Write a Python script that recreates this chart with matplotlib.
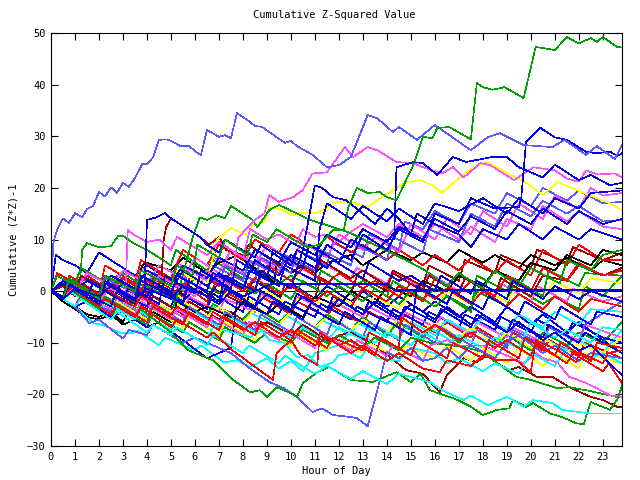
import matplotlib
matplotlib.use('Agg')
import matplotlib.pyplot as plt

# colours of the gnuplot palette used in the chart
SL = '#5a5aff'
BL = '#0000e0'
GR = '#00a000'
MG = '#ff50ff'
CY = '#00ffff'
RD = '#ff0000'
DR = '#a00000'
YL = '#ffff00'
BK = '#000000'

# each series: (hour, cumulative value) at the turning points
sl_a = [(0, 0), (0.1, 9.5), (0.25, 11.8), (0.5, 14.1), (0.75, 13.2), (1.0, 15.1), (1.3, 14.3), (1.5, 15.9),
        (1.75, 16.5), (2.0, 19.2), (2.25, 18.3), (2.5, 20.1), (2.75, 19), (3.0, 21), (3.25, 20.2), (3.5, 21.9),
        (3.8, 24.6), (4.0, 24.6), (4.25, 25.9), (4.5, 29.3), (4.8, 29.4), (5.0, 29.1), (5.4, 28.1), (5.75, 28.1),
        (6.1, 26.8), (6.25, 26.4), (6.5, 31.2), (7.0, 29.9), (7.25, 30.2), (7.5, 29.6), (7.75, 34.5), (8.2, 33.1),
        (8.5, 32), (8.8, 31.8), (9.75, 28.7), (10.0, 29.1), (10.25, 28.1), (10.9, 26.4), (11.5, 24), (12.0, 24.4),
        (12.5, 26), (13.2, 34.1), (13.6, 33.5), (14.25, 30.8), (14.5, 31.8), (15.25, 29.3), (16.0, 32.2),
        (16.3, 31.2), (17.5, 27.3), (18.2, 29.8), (18.7, 30.6), (19.7, 28.3), (20.9, 27.9), (21.4, 29.3),
        (22.3, 26.4), (22.75, 28.1), (23.5, 25.6), (23.8, 28.3)]
gr_a = [(0, 0), (0.5, -1.5), (0.75, 2), (2, -1.5), (2.25, 3), (3.5, 0), (3.75, 4), (5, 1), (5.25, 5), (5.9, 3),
        (6.1, 9), (7, 6.5), (7.25, 10), (8.2, 7), (8.4, 11), (9, 9.5), (9.4, 12), (10.1, 10), (10.7, 8.5),
        (11.2, 9), (11.75, 11.8), (12.2, 11.8), (12.4, 16.3), (12.75, 20), (13.2, 19), (13.7, 19.2), (14.0, 18.2),
        (14.4, 17.6), (14.8, 21.5), (15.1, 24.4), (15.5, 29.9), (15.9, 29.6), (16.1, 31.6), (16.6, 31.8),
        (17.5, 29.4), (17.75, 40.3), (18, 39.5), (18.4, 39), (18.9, 39.5), (19.7, 37.4), (20.2, 47.3), (21, 46.7),
        (21.5, 49.2), (22, 48), (22.5, 49), (22.75, 48.3), (23, 49.2), (23.6, 47.3), (23.8, 47.2)]
mg_a = [(0, 0), (0.5, -1.5), (1, 1), (2, -2), (2.5, 1), (4, -2), (4.5, 3), (6, -1), (6.5, 4), (7.5, 1), (7.8, 10.3),
        (8.2, 12.4), (8.5, 13.8), (8.9, 15.1), (9.1, 18.6), (9.5, 17.3), (10.1, 18.2), (10.5, 19.6), (10.9, 22.8),
        (11.5, 23), (12.25, 27.9), (12.6, 26), (13.2, 27.9), (13.6, 27.3), (14.4, 25), (15.1, 24.8), (15.5, 24),
        (16.3, 22.8), (16.75, 24), (17.2, 22), (17.9, 24.8), (18.3, 24.4), (19.3, 21.5), (20.1, 24), (21, 23.4),
        (21.5, 21.8), (22, 21.2), (22.3, 23.4), (22.8, 22.6), (23.5, 22.8), (23.8, 22)]
gr_b = [(0, 0), (0.5, -1), (0.75, 2.5), (2, -1), (2.5, 1), (3.5, -2), (4, 1), (5.2, -2), (5.9, 10.3), (6.2, 14.3),
        (6.5, 13.8), (6.9, 14.7), (7.25, 14.1), (7.5, 16.5), (8.4, 13.8), (8.6, 12.4), (9.1, 15.7), (9.5, 16.7),
        (10.4, 14.7), (10.8, 13.8), (11.75, 12.4), (12.5, 11.2), (13.2, 9.6), (14.8, 6), (15.6, 4), (16.5, 1),
        (17, 3.5), (18, 0.5), (18.5, 4), (19.5, 1), (20, 4.5), (21.2, 1.5), (21.5, 6), (22.5, 4), (23, 7), (23.8, 8)]
gr_c = [(0, 0), (0.5, -1.5), (1.2, 1), (1.3, 8), (1.5, 9.3), (2, 8.5), (2.5, 8.7), (2.8, 10.7), (3, 10.7),
        (3.5, 9.1), (4, 8), (5, 5), (5.2, 8), (6.5, 4), (6.75, 6), (8, 2.5), (8.25, 5), (9.5, 1.5), (10, 3),
        (11, 0.5), (11.25, 4), (12.5, 0.5), (13, 2), (14, -1), (14.25, 2), (15.5, -1.5), (16, 0.5), (17.5, -3.5),
        (17.75, 0), (19, -3), (19.25, 1), (20.5, -2.5), (21, -1), (22, -3.5), (22.25, 1), (23, -1), (23.8, 3)]
mg_b = [(0, 0), (0.5, -1), (0.75, 1.5), (2, -1.5), (2.25, 1), (3.1, -1), (3.2, 11.8), (3.5, 10.8), (4, 9.5),
        (4.5, 10), (5, 8), (5.25, 10.5), (6.5, 7), (7, 9.5), (8, 6.5), (8.3, 12), (9, 10), (9.5, 11), (10.2, 9),
        (10.5, 12), (11, 10.5), (11.5, 11), (12, 9.5), (12.5, 11.5), (13, 13), (14, 10.5), (14.5, 13),
        (15.5, 10.5), (16, 13), (17, 10), (17.5, 12.5), (18.5, 9.5), (19, 14), (20, 12), (20.5, 16.5),
        (21.5, 13.5), (22, 15.5), (23, 12.5), (23.8, 12)]
bl_a = [(0, 0), (0.5, -1.5), (0.75, 1), (2, -2.5), (2.25, 0), (3.5, -3), (3.9, 0), (4, 13.8), (4.4, 14.3),
        (4.75, 15.1), (5, 14.1), (6.2, 10.5), (6.5, 9), (7, 7.5), (7.25, 10), (8.5, 6.5), (8.75, 9), (10, 5),
        (10.25, 8), (11.5, 4.5), (11.75, 6), (13, 2.5), (13.25, 5.5), (14.5, 2), (15, 3), (16, 0), (16.25, 3),
        (17.5, -0.5), (17.75, 2), (19, -1.5), (19.25, 2), (20.5, -1.5), (21, 1), (22, -1.5), (22.5, 0), (23.8, -2)]
dr_a = [(0, 0), (0.5, 1.5), (1, -0.5), (1.25, 3), (2.5, -0.5), (2.75, 2), (4, -1.5), (4.6, 2), (4.7, 10),
        (4.8, 12.4), (5, 14.1), (6.2, 10.5), (6.6, 9), (7, 10.5), (7.3, 8), (8, 7), (8.25, 9), (9.5, 5), (10, 6.5),
        (11, 3.5), (11.25, 6), (12.5, 2.5), (13, 4), (14, 1), (14.25, 3.5), (15.5, 0), (15.75, 3), (17, -0.5),
        (17.25, 2.5), (18.5, -1), (18.75, 2.5), (20, -1), (20.5, 3), (21.5, 2), (22, 5), (23, 3), (23.8, 4.5)]
bl_b = [(0, 0), (0.5, -1.5), (1, 0.5), (2.5, -3), (2.75, 0), (4, -3), (4.25, 1), (5.5, -2.5), (5.75, 2), (7, -2),
        (7.25, 3), (8.5, 0), (8.75, 4), (10, 0.5), (10.5, 8), (11, 20.5), (11.3, 20), (11.75, 18.2), (12.3, 17.6),
        (13, 15), (13.5, 13), (14, 16), (14.5, 14), (15, 11), (15.25, 15), (16, 13), (17, 11), (17.5, 8.5),
        (18, 12), (19, 10), (19.5, 13), (20.5, 10), (21, 12.5), (22, 10), (22.5, 12), (23.8, 10)]
bl_c = [(0, 0), (0.5, 2), (1.5, -1), (1.75, 1.5), (3, -2), (3.25, 1), (4.5, -2.5), (4.75, 3), (6, -0.5),
        (6.25, 4), (7.5, 0.5), (7.75, 6), (9, 2.5), (9.25, 8), (10.5, 4.5), (10.75, 9), (12, 5.5), (12.5, 10),
        (13.5, 7.5), (14, 10), (14.3, 10), (14.4, 24), (15.1, 25), (15.5, 24.8), (16.1, 22.5), (16.75, 26),
        (17.3, 25), (18.4, 26), (19, 26), (19.5, 24), (20.5, 22), (21, 24.5), (22, 21.5), (22.5, 22.5),
        (23.3, 20.5), (23.8, 21)]
bl_d = [(0, 0), (0.5, -1.5), (0.75, 1.5), (2, -2), (2.25, 2), (3.5, -1.5), (3.75, 3), (5, 0), (5.5, 4), (6.5, 1),
        (7, 3.5), (8, 0.5), (8.5, 6), (9.5, 3), (10, 7), (11, 4.5), (11.5, 9), (12.5, 6), (13, 11), (14, 8),
        (14.5, 12), (15.5, 9.5), (16, 15), (17, 13), (17.5, 18), (18.5, 16), (19.5, 16.3), (19.6, 18),
        (19.8, 28.9), (20.4, 31.6), (21, 29.8), (21.5, 29.3), (22.3, 27), (22.75, 26.7), (23.3, 27), (23.6, 26.2),
        (23.8, 26.7)]
yl_a = [(0, 0), (0.5, -1), (0.75, 2), (2, -1.5), (2.25, 1.5), (3.5, -1.5), (3.75, 3), (5, 0), (5.25, 4),
        (6.5, 1), (6.9, 9.9), (7.5, 12.2), (8.2, 10.8), (8.4, 12.8), (8.9, 13.4), (9.1, 16.3), (9.7, 15.7),
        (10, 14.7), (10.4, 15.1), (11.1, 15.1), (11.9, 17.3), (12.5, 17.3), (13.2, 16.3), (13.8, 18.2),
        (14.8, 21.1), (15.4, 21.5), (15.9, 20.5), (16.3, 19), (16.9, 21.5), (17.6, 24), (18.2, 25), (18.8, 23.4),
        (19.8, 21), (20.5, 18.6), (21.1, 21.1), (21.6, 20.2), (22.75, 18), (23.3, 17), (23.8, 15.7)]
sl_b = [(0, 0), (0.5, -1.5), (1, -3), (1.6, -6.2), (2, -5.5), (3, -9.2), (3.25, -7.5), (4, -8.5), (4.25, -6.5),
        (5.5, -10), (6, -9), (7.5, -12), (8.3, -15), (9.1, -17.6), (9.7, -18.8), (10.25, -20.5), (10.9, -23.4),
        (11.3, -22.7), (11.75, -24), (12.5, -24.4), (12.75, -24.6), (13.2, -26.2), (13.6, -19.2), (14, -11.8),
        (14.5, -13), (15, -11), (15.5, -13.5), (16, -13), (16.5, -11), (17, -13), (17.5, -10.5), (18.5, -13),
        (19, -10), (19.5, -8.5), (20.5, -12), (21, -10.5), (22, -13.5), (22.5, -12), (23.8, -13)]
gr_d = [(0, 0), (0.5, -1.5), (0.75, 0.5), (2, -3.5), (2.25, -1), (3.5, -5), (3.75, -3.5), (5, -8), (5.7, -11.4),
        (6.75, -13.4), (7.6, -17.2), (8.3, -19.6), (8.7, -19.2), (9, -20.5), (9.4, -18.6), (10, -19.8),
        (10.25, -20.5), (10.5, -17.8), (11.1, -15.7), (11.6, -14.7), (12.5, -17.2), (13.4, -17.6), (14.4, -15.7),
        (15, -17.6), (15.4, -16), (15.8, -19.2), (16.9, -21), (17.5, -22.4), (18, -24), (18.6, -23),
        (19.1, -22.7), (19.25, -21.1), (19.8, -22.4), (20.1, -21.7), (20.8, -23.7), (21.3, -24.4), (21.9, -25.6),
        (22.2, -25.8), (22.5, -21.5), (23.3, -23), (23.6, -21), (23.8, -18.2)]
cy_a = [(0, 0), (0.5, -1.5), (1, -3), (1.25, -1.5), (2.5, -5.5), (2.75, -4), (4, -8), (4.25, -6.5), (5, -8.5),
        (5.25, -7), (6.5, -10.5), (6.75, -8.5), (8, -12), (8.25, -10.5), (9.5, -14), (9.75, -12.5), (11, -16),
        (11.5, -14.5), (12.5, -17), (13, -15.5), (14, -18), (14.5, -16), (15.8, -17.6), (16.3, -19.2),
        (17.2, -21.1), (17.5, -20.2), (18.2, -22.1), (19, -20.5), (19.25, -21.1), (19.7, -22.4), (20.1, -21.1),
        (20.9, -21.7), (21.3, -23), (22.5, -23.7), (23.8, -23.7)]
dr_b = [(0, 0), (0.5, 1), (1, -1), (1.25, 1.5), (2.5, -2.5), (2.75, 0), (4, -3.5), (4.25, -1), (5.5, -4.5),
        (5.75, -2), (7, -5.5), (7.5, -4), (8.5, -7.5), (9, -6), (10, -8.5), (10.5, -6.5), (11.5, -9.5),
        (12.5, -7.9), (13.6, -10.8), (14.8, -15.3), (15.5, -16), (16.2, -19.6), (16.5, -16.3), (17.2, -13),
        (17.75, -13.7), (18.2, -12.4), (18.6, -14), (19.1, -15.3), (19.5, -14.7), (20.25, -16.6), (20.9, -16.6),
        (21.6, -18.6), (22.5, -20.5), (23, -21.1), (23.6, -22.4), (23.8, -22.4)]
rd_a = [(0, 0), (0.5, -1.5), (0.75, 1), (2, -3), (2.25, -1.5), (3.5, -5), (3.75, -3), (5, -7), (5.25, -5.5),
        (6.5, -9), (6.75, -8), (7.6, -11.6), (9.25, -17.2), (9.4, -12), (10, -9.5), (10.4, -12.4), (11.1, -14.3),
        (11.2, -8), (12, -10.5), (12.5, -9.5), (13.5, -12.5), (13.75, -9), (15, -12.5), (15.25, -9.5), (16.5, -13),
        (16.75, -10), (18, -13), (18.25, -9.5), (19.5, -13), (19.75, -9), (21, -12.5), (21.25, -10), (22.5, -13.5),
        (22.75, -10), (23.8, -11)]
rd_b = [(0, 0), (0.5, -1), (1, 1.5), (2, -1.5), (2.25, 0.5), (3.5, -3), (3.75, -1), (5, -4.5), (5.25, -3),
        (6.5, -6.5), (6.75, -4), (8, -7.5), (8.5, -6), (9.5, -9), (10, -7.5), (11, -10.5), (11.5, -9), (12.5, -12),
        (13, -10.5), (14, -13.5), (14.5, -12), (15.5, -15), (16.2, -15.7), (16.5, -13.4), (17.5, -14.5),
        (18, -12.5), (18.6, -13.4), (19.4, -13.4), (20, -15.7), (20.2, -9.5), (20.5, -10.1), (21.1, -11.4),
        (21.9, -13.8), (22, -11.8), (23, -14), (23.2, -12), (23.8, -11.5)]
mg_c = [(0, 0), (0.5, -1.5), (0.75, 0.5), (2, -2.5), (2.25, -1), (3.5, -4.5), (3.75, -2), (5, -5.5), (5.25, -3.5),
        (6.5, -7), (6.75, -5), (8, -8.5), (8.25, -6), (9.5, -9.5), (9.75, -7.5), (11, -11), (11.25, -8),
        (12.5, -11.5), (12.75, -9.5), (14, -12.5), (14.25, -10.5), (15.5, -13.5), (15.8, -10.5), (16.5, -9.5),
        (17, -10.5), (18, -10.5), (19, -12.5), (19.7, -14), (20.2, -12), (20.5, -13), (21.1, -13.8),
        (21.6, -16.6), (22.2, -17.6), (22.75, -18.8), (23.3, -20.2), (23.8, -20.5)]
cy_b = [(0, 0), (0.5, -1.5), (0.75, 0), (2, -3.5), (2.25, -2), (3.5, -5.5), (3.75, -4), (5, -7.5), (5.25, -5.5),
        (6.5, -9), (6.75, -7), (8.3, -8.9), (8.8, -7.6), (9.1, -9.5), (9.7, -10), (10.25, -12.8), (10.7, -12.4),
        (11.2, -14.7), (11.75, -13.8), (12, -12.4), (12.5, -12), (12.9, -13), (13.2, -11), (13.6, -13),
        (14.5, -13.5), (15, -11), (16, -12), (16.5, -14), (17, -13), (18, -15.5), (18.5, -14), (19.5, -16),
        (20, -12), (21, -14.5), (21.5, -11), (22.5, -13), (23, -12), (23.8, -14)]
cy_c = [(0, 0), (0.5, -1.5), (1, -3), (1.75, -6.2), (2.2, -6.6), (2.9, -8.1), (3.4, -8.1), (3.6, -7.6),
        (4.5, -10.5), (4.75, -9), (6, -11.5), (6.25, -10.5), (7.2, -13.8), (7.75, -13.4), (8.3, -14.7), (9, -13),
        (9.5, -15), (10, -13.5), (10.5, -15.5), (11, -12), (12, -10.5), (12.5, -7.5), (13.5, -10), (14, -8),
        (15, -10.5), (15.5, -8), (16.5, -10.5), (17, -8.5), (18, -11), (18.5, -9), (19.5, -11), (20, -6),
        (21, -9), (21.5, -7.5), (22.5, -10), (23, -7), (23.8, -7.5)]
bk_a = [(0, 0), (0.5, -1.5), (1, -3), (1.5, -4.5), (2, -5), (2.5, -4), (3, -6), (3.25, -3.5), (3.5, -1), (3.8, 5),
        (4, 5.5), (5, 4), (5.5, 6.5), (6.5, 3.5), (7, 5.5), (7.8, 7), (8.3, 5), (9, 3), (9.3, 1.5), (9.4, 5.6),
        (10, 3.5), (10.5, 5), (11, 3.5), (11.5, 5.5), (12.5, 7), (13, 5), (14, 8), (15, 6), (15.5, 7.5),
        (16.5, 5.5), (17, 8), (18, 5.5), (18.5, 7), (19.5, 4.5), (20, 7), (21, 5), (21.5, 6.5), (22.5, 4), (23, 6),
        (23.8, 5)]
bk_b = [(0, 0), (0.5, -2), (1, -3.5), (1.5, -5), (2, -5.5), (2.5, -4.5), (3, -6.5), (3.5, -5.5), (4, -7),
        (4.25, -4), (5, -6), (5.25, -2), (6, -4), (6.5, -3), (7.5, -5), (8, -2), (9, -4.5), (9.5, -2.5),
        (10.5, -5), (11, -1), (12, -3), (12.5, 0), (13.5, -2.5), (14, 1), (15, -1), (15.5, 2), (16.5, 0), (17, 3),
        (18, 1), (18.5, 4), (19.5, 2), (20, 5.5), (21, 4), (21.5, 7), (22.5, 5), (23, 8), (23.8, 7)]
rd_c = [(0, 0), (0.25, 3.5), (1, 1.5), (1.25, 4.5), (2.5, 1), (2.75, 3), (4, -0.5), (4.25, 2.5), (5.5, -1),
        (5.75, 1), (7, -2.5), (7.25, 0), (8.5, -3.5), (8.75, -1), (10, -4.5), (10.25, -2), (11.5, -5), (11.75, -3),
        (13, -6.5), (13.25, -4), (14.5, -7), (14.75, -4.5), (16, -8), (16.5, -6), (17.5, -9), (17.75, -7),
        (19, -10.5), (19.25, -8), (20.5, -11.5), (20.75, -9.5), (22, -12.5), (22.25, -10), (23.8, -13)]
rd_d = [(0, 0), (0.5, -1.5), (0.75, 3), (2, -0.5), (2.25, 5), (3.5, 1.5), (3.75, 6), (5, 2.5), (5.5, 8), (6.5, 5),
        (7, 9), (8, 6), (8.5, 10), (9.5, 7.5), (10, 11), (11, 8), (11.5, 10.5), (12.5, 7.5), (13, 9), (14, 6),
        (14.5, 8), (15.5, 5), (16, 7), (17, 4), (17.5, 6.5), (18.5, 3.5), (19, 6), (20, 3), (20.5, 8), (21.5, 5),
        (22, 9), (23, 6), (23.8, 6)]
rd_e = [(0, 0), (0.5, 2), (1, 0.5), (1.5, 3), (2.5, 0), (3, 2.5), (4, -0.5), (4.5, 3.5), (5.5, 0.5), (6, 4),
        (7, 1), (7.5, 3.5), (8.5, 0.5), (9, 5), (10, 2), (10.5, 4.5), (11.5, 1.5), (12, 3.5), (13, 0.5), (13.5, 2),
        (14.5, -1), (15, 1.5), (16, -1.5), (16.5, 0.5), (17.5, -2.5), (18, 0), (19, -3), (19.5, -0.5),
        (20.5, -3.5), (21, -1), (22, -4), (22.5, -1.5), (23.8, -3)]
rd_f = [(0, 0), (0.5, -1.5), (1, 1), (2, -2), (2.5, 1.5), (3.5, -1.5), (4, 2), (5, -1), (5.5, 1.5), (6.5, -2),
        (7, 3), (8, 0), (8.5, 2.5), (9.5, -0.5), (10, 1), (11, -2), (11.5, 0), (12.5, -3), (13, 0.5), (14, -2),
        (14.5, 1), (15.5, -2), (16, 2.5), (17, -0.5), (17.5, 2), (18.5, -1), (19, 3), (20, 0), (20.5, 4.5),
        (21.5, 2), (22, 5.5), (23, 3), (23.8, 4)]
rd_g = [(0, 0), (0.5, -1.5), (1, -3), (1.25, -1), (2.5, -4.5), (2.75, -2.5), (4, -6), (4.25, -3), (5.5, -6.5),
        (5.75, -4), (7, -7.5), (7.25, -5), (8.5, -8.5), (8.75, -6), (10, -9.5), (10.25, -7.5), (11.5, -11),
        (11.75, -9), (13, -11.5), (13.25, -8), (14.5, -11), (14.6, -5), (15.5, -8), (16, -6.5), (17, -9.5),
        (17.5, -8), (18.5, -11), (19, -9.5), (20, -12.5), (20.25, -10), (21.5, -14), (21.75, -12), (23, -15.5),
        (23.25, -14), (23.8, -17.8)]
gr_e = [(0, 0), (0.5, -1.5), (0.75, 1), (2, -2.5), (2.25, 0), (3.5, -3.5), (3.75, -1), (5, -4), (5.25, -1.5),
        (6.5, -5), (6.75, -2.5), (8, -5.5), (8.5, -3), (9.5, -6), (10, -4), (11, -7), (11.5, -4.5), (12.5, -7.5),
        (13, -5), (14, -8.5), (14.5, -6), (15.5, -9), (16, -6.5), (17, -10), (17.5, -8), (18.5, -11), (19, -8.5),
        (20, -11.5), (20.5, -8), (21.5, -10.5), (22, -8), (23, -10), (23.8, -6)]
gr_f = [(0, 0), (0.25, 3), (1, 1), (1.25, 4.5), (2.5, 1), (3, 3.5), (4, 0.5), (4.5, 3), (5.5, 0), (6, 2.5),
        (7, -0.5), (7.5, 2.5), (8.5, -0.5), (9, 1.5), (10, -1.5), (10.5, 2), (11.5, -1), (12, 1), (13, -2),
        (13.5, 0.5), (14.5, -2.5), (15, 0), (16, -3), (16.5, -1), (17.5, -4), (17.75, 3), (19, 0), (19.25, 2.5),
        (20.5, -1), (20.75, 4), (22, 1), (22.25, 3.5), (23.8, 3)]
gr_g = [(0, 0), (0.5, -1.5), (1, -3), (1.25, -1.5), (2.5, -5), (2.75, -3), (4, -6.5), (4.25, -4.5), (5.5, -8),
        (5.75, -6), (7, -9.5), (7.25, -7), (8.5, -10), (9, -8), (10, -10), (10.5, -7.5), (11.5, -10), (12, -8.5),
        (13, -11), (13.5, -9), (14.5, -11.5), (15, -9), (15.8, -10), (17.2, -10.8), (18, -11.8), (19, -15.3),
        (19.4, -16.6), (20, -17.2), (21.1, -18.8), (21.6, -18.6), (22.3, -19.2), (23.3, -20.2), (23.6, -20.5),
        (23.8, -18.8)]
mg_d = [(0, 0), (0.5, -1), (0.75, 2), (2, -1), (2.25, 3), (3.5, 0), (3.75, 4.5), (5, 1.5), (5.25, 5.5), (6.5, 2),
        (6.75, 6.5), (8, 3.5), (8.25, 7.5), (9.5, 4), (9.75, 6), (11, 3), (11.25, 5.5), (12.5, 2.5), (12.75, 4.5),
        (14, 1.5), (14.25, 4), (15.5, 0.5), (15.75, 3.5), (17, 0), (17.25, 2.5), (18.5, -1), (18.75, 1.5),
        (20, -2), (20.25, 1), (21.5, -2), (21.75, 0.5), (23, -2), (23.8, -1)]
mg_e = [(0, 0), (0.5, -1.5), (1, -3), (1.25, -0.5), (2.5, -3.5), (2.75, -1.5), (4, -5), (4.25, -2), (5.5, -5),
        (5.75, -1), (7, -4), (7.25, -1.5), (8.5, -4), (8.75, -0.5), (10, -3.5), (10.25, -1), (11.5, -4),
        (11.75, -2), (13, -5), (13.25, -3), (14.5, -6), (14.75, -4), (16, -7), (16.25, -5), (17.5, -8.5),
        (17.75, -6), (19, -9), (19.25, -7), (20.5, -10), (20.75, -7), (22, -9.5), (22.25, -6.5), (23.8, -9)]
mg_f = [(0, 0), (0.5, 2), (1, 0), (1.5, 3.5), (2.5, 1), (3, 4), (4, 1.5), (4.5, 5), (5.5, 2.5), (6, 6.5), (7, 3.5),
        (7.5, 8), (8.5, 5), (9, 9), (10, 6), (10.5, 9.5), (11.5, 6.5), (12, 11), (13, 8), (13.5, 10.5),
        (14.5, 7.5), (15, 13), (16, 10), (16.5, 14), (17.5, 11), (18, 15.5), (19, 12.5), (19.5, 17), (20.5, 14),
        (21, 18.5), (22, 16), (22.5, 20), (23, 18.5), (23.8, 19)]
cy_d = [(0, 0), (0.5, -1.5), (1, -3), (1.5, -2), (2.5, -4.5), (3, -2.5), (4, -5), (4.5, -3), (5.5, -6), (6, -4),
        (7, -7), (7.5, -5), (8.5, -8), (9, -6), (10, -9), (10.5, -7), (11.5, -9.5), (12, -7), (13, -9.5),
        (13.5, -6.5), (14.5, -9), (15, -6), (16, -8.5), (16.5, -5.5), (17.5, -8), (18, -5), (19, -7.5),
        (19.5, -4.5), (20.5, -7), (21, -4), (22, -6.5), (22.5, -3.5), (23.8, -4)]
cy_e = [(0, 0), (0.5, -1.5), (0.75, 1), (2, -2.5), (2.25, 0), (3.5, -3.5), (3.75, -1), (5, -4.5), (5.25, -2),
        (6.5, -5.5), (6.75, -3), (8, -6.5), (8.25, -4), (9.5, -7), (9.75, -4.5), (11, -8), (11.25, -5.5),
        (12.5, -8.5), (12.75, -6), (14, -9), (14.25, -6.5), (15.5, -9.5), (15.75, -7), (17, -10.5), (17.25, -7.5),
        (18.5, -10.5), (18.75, -8), (20, -11), (20.25, -8.5), (21.5, -11.5), (21.75, -9), (23, -12), (23.8, -7.5)]
yl_b = [(0, 0), (0.5, -1.5), (1, 0.5), (2, -2), (2.5, 0), (3.5, -3), (4, -1), (5, -4), (5.5, -2), (6.5, -5),
        (7, -3), (8, -6), (8.5, -3.5), (9.5, -6.5), (10, -4), (11, -7), (11.5, -5), (12.5, -7.5), (13, -5.5),
        (14, -8), (14.5, -5), (15.5, -8), (16, -6), (17, -9), (17.5, -7), (18.5, -10), (19, -8), (20, -11),
        (20.5, -9), (21.5, -12), (22, -10), (23, -12), (23.8, -8.9)]
yl_c = [(0, 0), (0.5, 1.5), (1, 0), (1.5, 2.5), (2.5, -0.5), (3, 2), (4, -1), (4.5, 1.5), (5.5, -1.5), (6, 1),
        (7, -2), (7.5, 0.5), (8.5, -2.5), (9, 0), (10, -3), (10.5, -0.5), (11.5, -3), (12, -1), (13, -3.5),
        (13.5, -1), (14.5, -3.5), (15, -0.5), (16, -3), (16.5, 0), (17.5, -2.5), (18, 0.5), (19, -2), (19.5, 1.5),
        (20.5, -1), (21, 2), (22, -0.5), (22.5, 2.5), (23.8, 1.5)]
yl_d = [(0, 0), (0.5, -1.5), (1, -3), (1.25, -1), (2.5, -4.5), (2.75, -2), (4, -5.5), (4.25, -3.5), (5.5, -7),
        (5.75, -5), (7, -8.5), (7.25, -6), (8.5, -9.5), (8.75, -7), (10, -10.5), (10.25, -8), (11.5, -11.5),
        (11.75, -9), (13, -12), (13.25, -10), (14.5, -13), (14.75, -10.5), (16, -13), (16.5, -10.5),
        (17.5, -13.5), (18, -11), (19, -14), (19.5, -11), (20.5, -14.5), (21, -12), (22, -15), (22.25, -12),
        (23.8, -14)]
bl_e = [(0, 0), (0.5, -1.5), (0.75, 1.5), (2, -2), (2.25, 1), (3.5, -2.5), (3.75, 0.5), (5, -3), (5.25, 0),
        (6.5, -3.5), (6.75, -0.5), (8, -4), (8.25, -1), (9.5, -4.5), (9.75, -2), (11, -5), (11.25, -2.5),
        (12.5, -5.5), (12.75, -3), (14, -6), (14.25, -3.5), (15.5, -6.5), (15.75, -4), (17, -7), (17.25, -4.5),
        (18.5, -7.5), (18.75, -5), (20, -8), (20.25, -5.5), (21.5, -8.5), (21.75, -6), (23, -9), (23.8, -10)]
bl_f = [(0, 0), (0.5, 2), (1, 0.5), (1.25, 3), (2.5, 0), (2.75, 2.5), (4, -1), (4.25, 1.5), (5.5, -2), (5.75, 1),
        (7, -2.5), (7.25, 0.5), (8.5, -3), (8.75, 0), (10, -3.5), (10.25, -0.5), (11.5, -4), (11.75, -1),
        (13, -4.5), (13.25, -2), (14.5, -5.5), (14.75, -3), (16, -6), (16.25, -3.5), (17.5, -7), (17.75, -4.5),
        (19, -8), (19.25, -5.5), (20.5, -9), (20.75, -6.5), (22, -10), (22.25, -8), (23.8, -12)]
bl_g = [(0, 0), (0.5, -1.5), (1, -3), (1.5, -2), (2.5, -5), (3, -4), (4, -7), (4.5, -6), (5.5, -9.5), (6.5, -13),
        (7, -12), (7.5, -11), (7.75, -2), (9, -4.5), (9.25, -2), (10.5, -5.5), (10.75, -3), (12, -6.5),
        (12.25, -4), (13.5, -7.5), (13.75, -5), (15, -8.5), (15.25, 1), (16.5, -2.5), (16.75, 0), (18, -3.5),
        (18.25, -1), (19.5, -4.5), (19.75, -2), (21, -5.5), (21.25, -3), (22.5, -6.5), (22.75, -4), (23.8, -5)]
bl_h = [(0, 0), (0.5, 1.5), (1, 0), (1.5, 2), (2.5, -0.5), (3, 1.5), (4, -1.5), (4.5, 1), (5.5, -2), (6, 0.5),
        (7, -2.5), (7.5, 0), (8.5, -3), (9, -0.5), (10, -3.5), (10.5, -1), (11.5, -4), (12, -1.5), (13, -4.5),
        (13.5, -2), (14.5, -5), (15, -2.5), (16, -5.5), (16.5, -3), (17.5, -6.5), (18, -4.5), (19, -8),
        (19.5, -6), (20.5, -9.5), (21, -8), (22, -11.5), (22.5, -10.5), (23.8, -16.3)]
bl_i = [(0, 0), (0.5, -1.5), (0.75, 2), (2, -1), (2.5, 3), (3.5, 0.5), (4, 4), (5, 1.5), (5.5, 5), (6.5, 2.5),
        (7, 6.5), (8, 4), (8.5, 8), (9.5, 5.5), (10, 9.5), (11, 7), (11.5, 11), (12.5, 8.5), (13, 12), (14, 9.5),
        (14.5, 12.5), (15.5, 10), (16, 14), (17, 11.5), (17.5, 14.5), (18.5, 12), (19, 15.5), (20, 13),
        (20.5, 16), (21.5, 13), (22, 15.5), (23, 13), (23.8, 14)]
bl_j = [(0, 0), (0.5, -1.5), (1, 0.5), (2, -1), (2.5, 1), (3.5, -1.5), (4, 0.5), (5, -1.5), (5.5, 1), (6.5, -1),
        (7, 1.5), (8, -1), (9.2, 1.4), (14, 1.4), (14.3, 0.2), (23.8, 0.2)]
sl_c = [(0, 0), (0.5, -1.5), (1, -3), (1.25, -1), (2.5, -4), (2.75, -2), (4, -5), (4.25, -2.5), (5.5, -6),
        (5.75, -3), (7, -6.5), (7.25, -4), (8.5, -7.5), (8.75, -4.5), (10, -8), (10.25, -5), (11.5, -8.5),
        (11.75, -5.5), (13, -9), (13.25, -6), (14.5, -9.5), (14.75, -6.5), (16, -10), (16.25, -7), (17.5, -10.5),
        (17.75, -7.5), (19, -11), (19.25, -7.5), (20.5, -10.5), (20.75, -7), (22, -10), (22.25, -6.5), (23.8, -2)]
sl_d = [(0, 0), (0.5, -1.5), (0.75, 1.5), (2, -1), (2.25, 2.5), (3.5, -0.5), (3.75, 3), (5, 0), (5.25, 4),
        (6.5, 1), (6.75, 5), (8, 2), (8.25, 6), (9.5, 3), (9.75, 7), (11, 4), (11.25, 8), (12.5, 5), (12.75, 9),
        (14, 6), (14.25, 10.5), (15.5, 7.5), (15.75, 12), (17, 9.5), (17.5, 15), (18.5, 12.5), (19, 17),
        (20, 14.5), (20.5, 17.5), (21.5, 15), (22, 16.5), (23, 13.5), (23.8, 13.8)]
sl_e = [(0, 0), (0.5, 1.5), (1, -0.5), (1.25, 2.5), (2.5, 0), (2.75, 3), (4, 0), (4.25, 3.5), (5.5, 0.5),
        (5.75, 4.5), (7, 1.5), (7.25, 5), (8.5, 2), (8.75, 6.5), (10, 3.5), (10.25, 8), (11.5, 5), (11.75, 9.5),
        (13, 6.5), (13.25, 11), (14.5, 8), (14.75, 13.5), (15.5, 12), (16, 15.5), (17, 13), (17.5, 17),
        (18.5, 15), (19, 19), (20, 16.5), (20.5, 20), (21.5, 17.5), (22, 19.5), (23, 17), (23.8, 17.3)]
bl_k = [(0, 0), (0.5, -1), (0.75, 2), (2, -1.5), (2.25, 1.5), (3.5, -1.5), (3.75, 2), (5, -1), (5.25, 3), (6.5, 0),
        (6.75, 3.5), (8, 0.5), (8.25, 4), (9.5, 1), (9.75, 5), (11, 2), (11.2, 12), (11.5, 17), (12.5, 14),
        (13, 16.5), (14, 13.5), (14.5, 16), (15.5, 13), (16, 17), (17, 15.5), (18, 18), (19, 15), (19.5, 18),
        (20.5, 15), (21, 18), (22, 16), (22.5, 19), (23.8, 19.5)]
bl_l = [(0, 0), (0.2, 7), (0.5, 6), (1, 5), (1.5, 3.5), (2, 7.5), (2.5, 6), (3, 4.5), (3.5, 3), (4, 5), (5, 2),
        (5.5, 4), (6.5, 1), (7, 3), (8, 0), (8.5, 2), (9.5, -1), (10, 1.5), (11, -1.5), (11.5, 1), (12.5, -2),
        (13, 0), (14, -3), (14.5, -1), (15.5, -4), (16, -2), (17, -5), (17.5, -3), (18.5, -6), (19, -3),
        (20, -6.5), (20.5, -4.5), (21.5, -8), (22, -6), (23, -9.5), (23.8, -12)]
dr_c = [(0, 0), (0.5, -1.5), (0.75, 1), (2, -2), (2.25, 1), (3.5, -2.5), (3.75, 0.5), (5, -3), (5.25, 0),
        (6.5, -3), (6.75, 0.5), (8, -2.5), (8.25, 1), (9.5, -2), (9.75, 1.5), (11, -1.5), (11.25, 2.5),
        (12.5, -0.5), (12.75, 3), (14, 0), (14.25, 4), (15.5, 1), (15.75, 5), (17, 2), (17.25, 6), (18.5, 3.5),
        (18.75, 7), (20, 4.5), (20.25, 8), (21.5, 5.5), (21.75, 8.5), (23, 6), (23.8, 7.4)]

series = [
    (rd_c, RD), (gr_c, GR), (bl_l, BL), (mg_d, MG), (cy_e, CY), (dr_c, DR), (yl_c, YL), (bk_a, BK), (sl_e, SL),
    (rd_d, RD), (gr_e, GR), (bl_e, BL), (mg_e, MG), (cy_d, CY), (dr_b, DR), (yl_b, YL), (bk_b, BK), (sl_c, SL),
    (rd_e, RD), (gr_f, GR), (bl_f, BL), (mg_f, MG), (cy_c, CY), (dr_a, DR), (yl_d, YL), (sl_d, SL),
    (rd_f, RD), (gr_g, GR), (bl_g, BL), (mg_c, MG), (cy_b, CY), (yl_a, YL), (sl_b, SL),
    (rd_g, RD), (gr_d, GR), (bl_h, BL), (mg_b, MG), (cy_a, CY), (bl_i, BL),
    (rd_a, RD), (gr_b, GR), (bl_a, BL), (mg_a, MG), (bl_b, BL),
    (rd_b, RD), (bl_c, BL), (bl_d, BL), (bl_k, BL), (sl_a, SL), (gr_a, GR), (bl_j, BL),
]

plt.rcParams['font.family'] = ['DejaVu Sans Mono']
fig = plt.figure(figsize=(6.4, 4.8), dpi=100)
ax = fig.add_axes([51 / 640, 34 / 480, 571 / 640, 413 / 480])

ax.axhline(0, color='black', lw=0.5, antialiased=False)
for pts, col in series:
    hrs = [p[0] for p in pts]
    vals = [p[1] for p in pts]
    ax.plot(hrs, vals, color=col, lw=0.45, antialiased=False)

ax.set_xlim(0, 23.8)
ax.set_ylim(-30, 50)
ax.set_xticks(range(0, 24))
ax.set_yticks(range(-30, 51, 10))
ax.tick_params(direction='in', length=5, width=0.8, top=True, right=True, labelsize=7.5, pad=4)
for s in ax.spines.values():
    s.set_linewidth(0.8)

fig.text(0.523, 0.968, 'Cumulative Z-Squared Value', ha='center', va='center', fontsize=7.5)
ax.set_xlabel('Hour of Day', fontsize=7.5, labelpad=3)
ax.set_ylabel('Cumulative (Z*Z)-1', fontsize=7.5, labelpad=6)

fig.savefig('out.png', dpi=100)
